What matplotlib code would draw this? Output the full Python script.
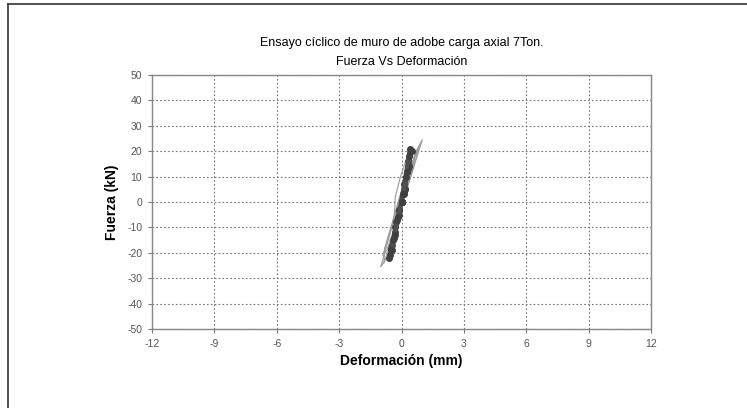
import numpy as np
import matplotlib.pyplot as plt
from matplotlib.lines import Line2D

plt.rcParams['font.family'] = ['Liberation Sans', 'DejaVu Sans']
plt.rcParams['axes.unicode_minus'] = False

# ciclos de carga (gris claro, sin marcadores)
light_x = [
    [0.0, 0.35, 0.75, 1.0, 0.7, 0.2, -0.2, -0.6, -1.0, -0.7, -0.3, 0.0],
    [0.0, 0.3, 0.6, 0.85, 0.5, 0.0, -0.4, -0.8, -0.85, -0.5, -0.1, 0.0],
    [0.0, 0.2, 0.5, 0.7, 0.4, -0.1, -0.5, -0.9, -0.7, -0.3, 0.0],
    [0.0, -0.35, -0.3, -0.05, 0.2, 0.35, 0.0],
]
light_y = [
    [0.0, 8.0, 18.0, 24.5, 20.0, 8.0, -2.0, -14.0, -25.5, -22.0, -10.0, 0.0],
    [0.0, 6.0, 14.0, 22.0, 15.0, 3.0, -7.0, -18.0, -24.0, -16.0, -5.0, 0.0],
    [0.0, 5.0, 12.0, 20.0, 12.0, 2.0, -10.0, -21.0, -19.0, -9.0, 0.0],
    [0.0, -6.0, 2.0, 10.0, 16.0, 15.0, 0.0],
]

# ciclos principales (gris oscuro, con marcadores)
dark_x = [
    [0.0, 0.1, 0.25, 0.4, 0.3, 0.1, -0.1, -0.3, -0.5, -0.6, -0.45, -0.25, 0.0],
    [0.0, 0.15, 0.3, 0.5, 0.35, 0.15, -0.1, -0.35, -0.55, -0.5, -0.3, -0.1, 0.0],
    [0.0, 0.1, 0.2, 0.35, 0.25, 0.05, -0.15, -0.3, -0.45, -0.4, -0.2, 0.0],
]
dark_y = [
    [0.0, 4.0, 12.0, 21.0, 16.0, 7.0, -3.0, -12.0, -19.0, -22.0, -17.0, -8.0, 0.0],
    [0.0, 5.0, 13.0, 20.0, 14.0, 5.0, -5.0, -14.0, -21.0, -18.0, -10.0, -3.0, 0.0],
    [0.0, 3.0, 10.0, 18.0, 12.0, 3.0, -6.0, -13.0, -19.0, -15.0, -7.0, 0.0],
]

xticks = [-12, -9, -6, -3, 0, 3, 6, 9, 12]
yticks = [-50, -40, -30, -20, -10, 0, 10, 20, 30, 40, 50]

fig = plt.figure(figsize=(7.47, 4.08), dpi=100)
ax = fig.add_axes([0.2035, 0.1936, 0.668, 0.6226])

for xs, ys in zip(light_x, light_y):
    ax.plot(xs, ys, color='#9a9a9a', lw=0.8)
for xs, ys in zip(dark_x, dark_y):
    ax.plot(xs, ys, color='#505050', lw=2.4, marker='o', ms=4,
            mfc='#404040', mec='#404040')

ax.set_xlim(-12, 12)
ax.set_ylim(-50, 50)
ax.set_xticks(xticks)
ax.set_yticks(yticks)
ax.tick_params(labelsize=7.5, labelcolor='#555555', color='#777777',
               length=3, width=0.8, pad=4)
ax.grid(True, linestyle=(0, (1.5, 2.0)), color='#777777', lw=0.8)
for s in ax.spines.values():
    s.set_color('#888888')
    s.set_linewidth(1.0)

ax.set_xlabel('Deformación (mm)', fontsize=10, fontweight='bold', labelpad=4)
ax.set_ylabel('Fuerza (kN)', fontsize=10, fontweight='bold', labelpad=6)
ax.set_title('Ensayo cíclico de muro de adobe carga axial 7Ton.\nFuerza Vs Deformación',
             fontsize=9, pad=7, linespacing=1.85)

# borde de la imagen
fig.add_artist(Line2D([8 / 747, 8 / 747], [0, 1 - 4 / 408], color='#333333', lw=1.2))
fig.add_artist(Line2D([8 / 747, 1], [1 - 4 / 408, 1 - 4 / 408], color='#333333', lw=1.2))

fig.savefig('out.png', dpi=100)
